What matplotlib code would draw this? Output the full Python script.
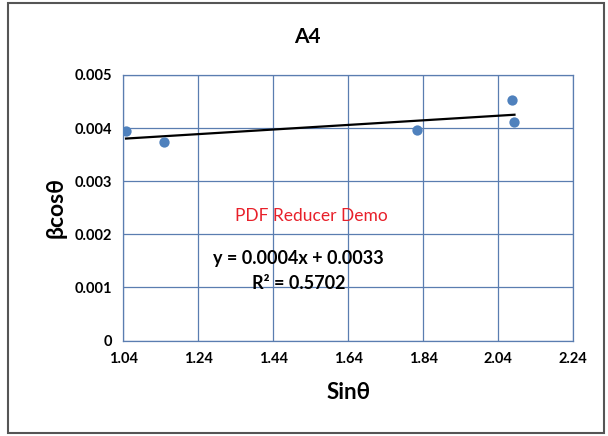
import numpy as np
import matplotlib
matplotlib.use("Agg")
from matplotlib import pyplot as plt
from matplotlib.patches import Rectangle

plt.rcParams['font.family'] = ['Lato', 'DejaVu Sans']

# sample A4 measurements
sin_theta = [1.047, 1.147, 1.824, 2.077, 2.083]
beta_cos_theta = [0.00394, 0.00374, 0.00397, 0.00452, 0.00412]
x_ticks = [1.04, 1.24, 1.44, 1.64, 1.84, 2.04, 2.24]
y_ticks = [0, 0.001, 0.002, 0.003, 0.004, 0.005]
y_tick_labels = ['0', '0.001', '0.002', '0.003', '0.004', '0.005']

grid_col = '#5a7db0'
dot_col = '#4f81bd'

fig = plt.figure(figsize=(6.08, 4.36), dpi=100)
fig.patches.append(Rectangle((0.013, 0.008), 0.98, 0.985, transform=fig.transFigure,
                             fill=False, edgecolor='#555555', linewidth=1.5))

ax = fig.add_axes([0.203, 0.219, 0.740, 0.609])
ax.scatter(sin_theta, beta_cos_theta, s=55, color=dot_col, zorder=3, linewidths=0)

# linear trendline
slope, intercept = np.polyfit(sin_theta, beta_cos_theta, 1)
xs = np.array([min(sin_theta), max(sin_theta)])
ax.plot(xs, slope * xs + intercept, color='black', linewidth=1.6, zorder=2)

ax.set_xlim(1.04, 2.24)
ax.set_ylim(0, 0.005)
ax.set_xticks(x_ticks)
ax.set_xticklabels(['%.2f' % t for t in x_ticks])
ax.set_yticks(y_ticks)
ax.set_yticklabels(y_tick_labels)
ax.grid(True, color=grid_col, linewidth=0.9)
ax.set_axisbelow(True)
for s in ax.spines.values():
    s.set_color(grid_col)
    s.set_linewidth(0.9)
ax.tick_params(length=0, labelsize=10.5, pad=8)
for lbl in ax.get_xticklabels() + ax.get_yticklabels():
    lbl.set_fontweight('bold')

ax.set_xlabel('Sinθ', fontsize=16, fontweight='bold', labelpad=12)
ax.set_ylabel('βcosθ', fontsize=16.5, fontweight='bold', labelpad=6)
fig.text(0.506, 0.915, 'A4', fontsize=15, fontweight='bold', ha='center', va='center')

ax.text(1.540, 0.00234, 'PDF Reducer Demo', color='#e8202a', fontsize=12.5,
        ha='center', va='center')
ax.text(1.506, 0.00155, 'y = %.4fx + %.4f' % (slope, intercept), fontsize=13,
        fontweight='bold', ha='center', va='center')
ax.text(1.508, 0.00107, 'R² = 0.5702', fontsize=13, fontweight='bold',
        ha='center', va='center')

fig.savefig('out.png', dpi=100)
